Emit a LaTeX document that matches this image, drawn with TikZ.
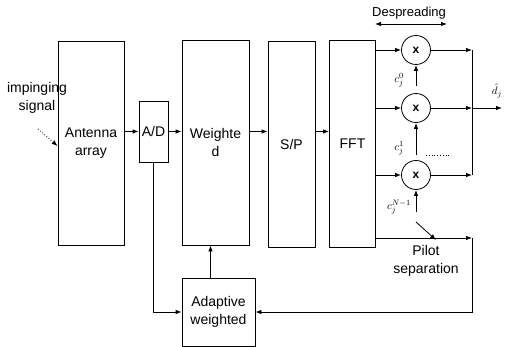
\documentclass[tikz,border=0pt]{standalone}
\usepackage{fontspec}
\setmainfont{Liberation Sans}
\usetikzlibrary{arrows.meta,positioning,calc}

\begin{document}
\begin{tikzpicture}[
    x=1pt, y=-1pt, >={Latex[length=6pt,width=4.5pt]},
    blk/.style={rectangle, draw, line width=0.8pt, align=center,
                font=\fontsize{14}{18}\selectfont, inner sep=0pt},
    mul/.style={circle, draw, line width=0.8pt, minimum size=29pt, inner sep=0pt,
                font=\fontsize{12}{14}\selectfont\bfseries},
    arr/.style={->, line width=0.8pt},
    lbl/.style={font=\fontsize{11}{13}\selectfont, inner sep=0pt},
    txt/.style={align=center, font=\fontsize{14}{18}\selectfont, inner sep=0pt}
]
\useasboundingbox (0,0) rectangle (505,347);

% processing chain
\node[blk, minimum width=66pt, minimum height=204pt] (ant) at (91,143)    {Antenna\\array};
\node[blk, minimum width=29pt, minimum height=61pt]  (ad)  at (153.5,131.5) {A/D};
\node[blk, minimum width=67pt, minimum height=205pt] (wt)  at (215.5,142.5) {Weighte\\d};
\node[blk, minimum width=47pt, minimum height=206pt] (sp)  at (291.5,144)   {S/P};
\node[blk, minimum width=46pt, minimum height=207pt] (fft) at (352.5,143.5) {FFT};
\node[blk, minimum width=73pt, minimum height=68pt]  (adw) at (218.5,312)   {Adaptive\\weighted};

% despreading multipliers
\node[mul] (m1) at (416,50)  {x};
\node[mul] (m2) at (416,108) {x};
\node[mul] (m3) at (416,175) {x};
\coordinate (r1) at (472,50);
\coordinate (r2) at (472,108);
\coordinate (r3) at (472,175);
\coordinate (out) at (502,108);
\coordinate (c0) at (416,86);
\coordinate (c1) at (416,155);
\coordinate (c2) at (416,212);
\node[lbl] (l0) at (399,80)  {$c_j^0$};
\node[lbl] (l1) at (399,148) {$c_j^1$};
\node[lbl] (l2) at (399,207) {$c_j^{N-1}$};
\node[lbl] (dh) at (497,91)  {$\hat{d}_j$};

\node[txt, font=\fontsize{13}{15}\selectfont] (dsp) at (409,13) {Despreading};
\coordinate (d1) at (375,24);
\coordinate (d2) at (447,24);

% pilot path
\coordinate (p1) at (472,238);
\coordinate (s1) at (416,222);
\coordinate (s2) at (436,240);
\node[txt] (pil) at (426,261) {Pilot\\separation};

% input
\node[txt] (imp) at (37,98) {impinging\\signal};
\coordinate (i1) at (38,129);
\coordinate (dt1) at (426,155);
\coordinate (dt2) at (450,155);

\draw[arr] (ant.east |- ad.west) -- (ad.west);
\draw[arr] (ad.east) -- (wt.west |- ad.east);
\draw[arr] (wt.east |- ad.east) -- (sp.west |- ad.east);
\draw[arr] (sp.east |- ad.east) -- (fft.west |- ad.east);
\draw[arr] (fft.east |- m1) -- (m1);
\draw[arr] (fft.east |- m2) -- (m2);
\draw[arr] (fft.east |- m3) -- (m3);
\draw[arr] (m1) -- (r1);
\draw[arr] (m2) -- (r2);
\draw[arr] (m3) -- (r3);
\draw[line width=0.8pt] (r1) -- (r3);
\draw[arr] (r2) -- (out);
\draw[arr] (c0) -- (m1);
\draw[arr] (c1) -- (m2);
\draw[arr] (c2) -- (m3);
\draw[<->, line width=0.8pt] (d1) -- (d2);
\draw[line width=0.8pt, dotted] (dt1) -- (dt2);
\draw[arr] (fft.east |- p1) -- (p1);
\draw[arr] (s1) -- (s2);
\draw[arr] (p1) -- (p1 |- adw.east) -- (adw.east);
\draw[arr] (ad.south) -- (ad.south |- adw.west) -- (adw.west);
\draw[arr] ([xshift=-8pt]adw.north) -- ([xshift=-8pt]adw.north |- wt.south);
\draw[arr, dotted] (i1) -- (ant.west |- 0,146);
\end{tikzpicture}
\end{document}
